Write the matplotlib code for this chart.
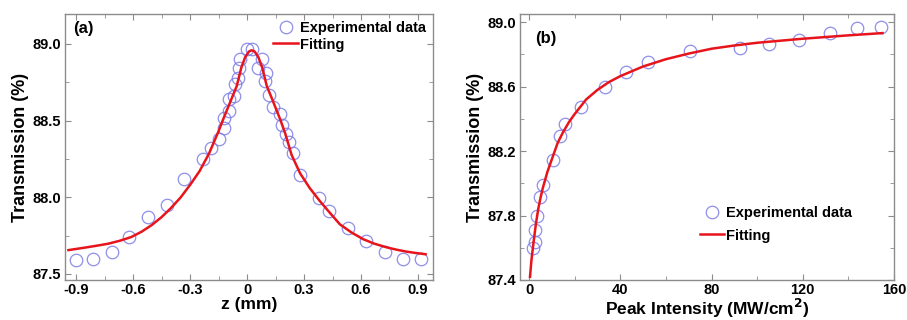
import matplotlib
matplotlib.use("Agg")
import matplotlib.pyplot as plt
from matplotlib.ticker import MultipleLocator

plt.rcParams['font.family'] = ['Liberation Sans', 'DejaVu Sans']
plt.rcParams['font.weight'] = 'bold'

# (a) open-aperture z-scan
z_data = [-0.90, -0.81, -0.71, -0.62, -0.52, -0.42, -0.33, -0.23, -0.19, -0.15,
          -0.12, -0.12, -0.093, -0.093, -0.067, -0.065, -0.05, -0.04, -0.035, -0.002,
          0.025, 0.077, 0.06, 0.10, 0.095, 0.118, 0.135, 0.174, 0.183, 0.205,
          0.223, 0.24, 0.279, 0.379, 0.433, 0.533, 0.626, 0.726, 0.819, 0.916]
t_data = [87.59, 87.60, 87.64, 87.74, 87.87, 87.95, 88.12, 88.25, 88.32, 88.38,
          88.45, 88.52, 88.565, 88.64, 88.66, 88.74, 88.78, 88.845, 88.90, 88.97,
          88.97, 88.90, 88.84, 88.81, 88.76, 88.67, 88.59, 88.545, 88.47, 88.415,
          88.36, 88.29, 88.146, 87.995, 87.91, 87.80, 87.716, 87.64, 87.594, 87.594]

z_fit = [-0.94, -0.85, -0.78, -0.73, -0.67, -0.61, -0.555, -0.50, -0.45, -0.40,
         -0.35, -0.30, -0.25, -0.20, -0.15, -0.125, -0.08, -0.054, -0.03, -0.01,
         0.01, 0.025, 0.04, 0.06, 0.08, 0.104, 0.13, 0.174, 0.20, 0.235,
         0.279, 0.33, 0.384, 0.435, 0.489, 0.55, 0.612, 0.67, 0.735, 0.79,
         0.84, 0.89, 0.94]
t_fit = [87.655, 87.672, 87.686, 87.697, 87.716, 87.74, 87.775, 87.82, 87.87, 87.93,
         87.998, 88.08, 88.17, 88.285, 88.43, 88.51, 88.647, 88.726, 88.846, 88.913,
         88.951, 88.959, 88.951, 88.913, 88.846, 88.726, 88.647, 88.51, 88.42, 88.275,
         88.157, 88.06, 87.974, 87.9, 87.823, 87.77, 87.726, 87.697, 87.673, 87.657,
         87.645, 87.636, 87.628]

# (b) transmission vs peak intensity
i_data = [1.9, 2.6, 2.6, 3.6, 4.8, 6.3, 10.6, 13.6, 15.8, 22.6,
          33.3, 42.4, 52.3, 70.5, 92.4, 105.3, 118.4, 131.9, 143.6, 154.5]
tb_data = [87.60, 87.636, 87.708, 87.80, 87.912, 87.987, 88.146, 88.296, 88.365, 88.473,
           88.596, 88.688, 88.753, 88.82, 88.84, 88.867, 88.887, 88.933, 88.963, 88.967]

i_fit = [0.4, 1.0, 2.0, 3.0, 4.0, 5.0, 6.0, 8.0, 10.0, 12.5, 15.0, 17.5, 20.0, 25.0,
         30.0, 35.0, 40.0, 50.0, 60.0, 70.0, 80.0, 90.0, 100.0, 120.0, 140.0, 155.0]
tb_fit = [87.42, 87.52, 87.64, 87.75, 87.84, 87.91, 87.97, 88.07, 88.15, 88.25,
          88.32, 88.38, 88.43, 88.52, 88.58, 88.628, 88.665, 88.725, 88.77, 88.805,
          88.835, 88.855, 88.872, 88.897, 88.918, 88.932]

a_xticks = [-0.9, -0.6, -0.3, 0, 0.3, 0.6, 0.9]
a_xlabels = ['-0.9', '-0.6', '-0.3', '0', '0.3', '0.6', '0.9']
a_yticks = [87.5, 88.0, 88.5, 89.0]
b_xticks = [0, 40, 80, 120, 160]
b_yticks = [87.4, 87.8, 88.2, 88.6, 89.0]

circ_col = '#7b7be6'
line_col = '#e8141c'
frame_col = '#8c8c8c'

fig = plt.figure(figsize=(9.07, 3.2), dpi=100)
ax1 = fig.add_axes([0.0717, 0.125, 0.4057, 0.831])
ax2 = fig.add_axes([0.5733, 0.125, 0.4123, 0.831])

ax1.plot(z_data, t_data, 'o', mfc='none', mec=circ_col, ms=9, mew=0.9, alpha=0.85,
         label='Experimental data')
ax1.plot(z_fit, t_fit, '-', color=line_col, lw=1.8, label='Fitting')
ax1.set_xlim(-0.958, 0.979)
ax1.set_ylim(87.46, 89.195)
ax1.set_xticks(a_xticks)
ax1.set_xticklabels(a_xlabels)
ax1.xaxis.set_minor_locator(MultipleLocator(0.15))
ax1.set_yticks(a_yticks)
ax1.set_yticklabels(['%.1f' % v for v in a_yticks])
ax1.yaxis.set_minor_locator(MultipleLocator(0.25))
ax1.set_xlabel('z (mm)', fontsize=12.5, fontweight='bold', labelpad=0)
ax1.set_ylabel('Transmission (%)', fontsize=13, fontweight='bold', labelpad=2)
ax1.text(0.022, 0.975, '(a)', transform=ax1.transAxes, fontsize=12,
         fontweight='bold', va='top', ha='left')
ax1.legend(loc='upper right', frameon=False, fontsize=10.5, handlelength=1.7,
           handletextpad=0.1, borderaxespad=0.1, labelspacing=0.15,
           bbox_to_anchor=(1.0, 1.0))

ax2.plot(i_data, tb_data, 'o', mfc='none', mec=circ_col, ms=9, mew=0.9, alpha=0.85,
         label='Experimental data')
ax2.plot(i_fit, tb_fit, '-', color=line_col, lw=1.8, label='Fitting')
ax2.set_xlim(-4, 160)
ax2.set_ylim(87.4, 89.05)
ax2.set_xticks(b_xticks)
ax2.set_xticklabels([str(v) for v in b_xticks])
ax2.xaxis.set_minor_locator(MultipleLocator(20))
ax2.set_yticks(b_yticks)
ax2.set_yticklabels(['%.1f' % v for v in b_yticks])
ax2.set_yticks([87.6, 88.0, 88.4, 88.8], minor=True)
ax2.set_xlabel('Peak Intensity (MW/cm$^\\mathbf{2}$)', fontsize=12.5, fontweight='bold', labelpad=0)
ax2.set_ylabel('Transmission (%)', fontsize=13, fontweight='bold', labelpad=2)
ax2.text(0.04, 0.91, '(b)', transform=ax2.transAxes, fontsize=12,
         fontweight='bold', va='center', ha='left')
ax2.legend(loc='center left', frameon=False, fontsize=10.5, handlelength=1.7,
           handletextpad=0.1, labelspacing=0.6, bbox_to_anchor=(0.445, 0.21))

for ax in (ax1, ax2):
    for s in ax.spines.values():
        s.set_color(frame_col)
        s.set_linewidth(1.0)
    ax.tick_params(which='both', direction='in', top=True, right=True,
                   color=frame_col, labelsize=10.5)
    ax.tick_params(axis='x', pad=2)
    ax.tick_params(axis='y', pad=3)
    ax.tick_params(which='major', length=4)
    ax.tick_params(which='minor', length=3)
    for lab in ax.get_xticklabels() + ax.get_yticklabels():
        lab.set_fontweight('bold')

fig.savefig('out.png', dpi=100)
